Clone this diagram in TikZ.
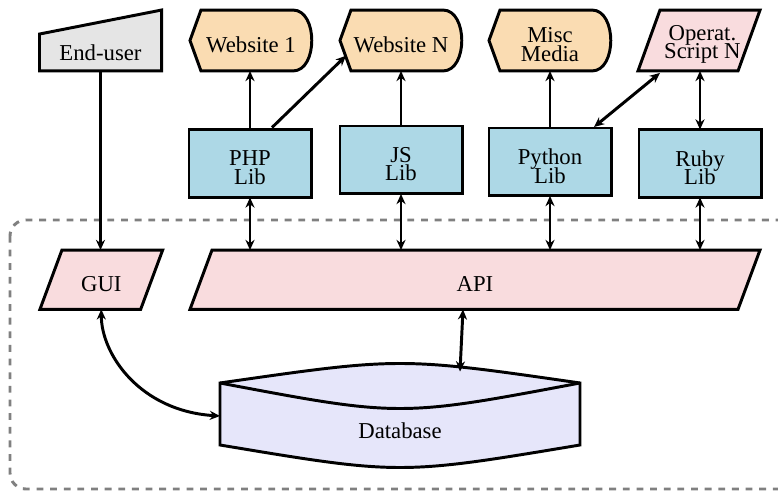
\documentclass[tikz,border=0pt]{standalone}
\usepackage{fontspec}
\setmainfont{Liberation Serif}
\usetikzlibrary{arrows.meta,calc,backgrounds}

\definecolor{userfill}{RGB}{229,229,229}
\definecolor{webfill}{RGB}{250,220,178}
\definecolor{scriptfill}{RGB}{249,220,222}
\definecolor{libfill}{RGB}{173,216,230}
\definecolor{dbfill}{RGB}{230,230,250}

\newcommand{\tightfont}{\fontsize{10}{8.1}\selectfont\lineskiplimit=-20pt\relax}

\begin{document}
\begin{tikzpicture}[x=0.44pt, y=0.44pt,
  >={Stealth[length=4.5pt,width=4pt]},
  outline/.style={draw, line width=1.3pt, line join=miter},
  conn/.style={line width=1.3pt},
  box/.style={minimum width=53.7pt, minimum height=26.8pt, inner sep=0pt, outer sep=0pt},
  libbox/.style={outline, fill=libfill, minimum width=53.7pt, minimum height=29.9pt, inner sep=0pt, outer sep=0pt},
  txt/.style={align=center, font=\tightfont, yshift=-1.8pt}]

\useasboundingbox (0,0) rectangle (778,-491);

% upper row
\node[box, label={[txt, yshift=-3.7pt]center:End-user}] (user) at (100.5,-40.5) {};
\node[box, label={[txt]center:Website 1}] (web1) at (251,-40.5) {};
\node[box, label={[txt]center:Website N}] (webN) at (401,-40.5) {};
\node[box, label={[txt]center:Misc\\Media}] (misc) at (550,-40.5) {};
\node[box, label={[txt, xshift=1.5pt]center:Operat.\\Script N}] (script) at (699,-40.5) {};

% libraries
\node[libbox, label={[txt]center:PHP\\Lib}] (php) at (250,-163.5) {};
\node[libbox, label={[txt]center:JS\\Lib}] (js) at (401,-160) {};
\node[libbox, label={[txt]center:Python\\Lib}] (python) at (550,-162) {};
\node[libbox, label={[txt]center:Ruby\\Lib}] (ruby) at (700,-163.5) {};

% inside the server
\node[box, minimum width=54pt, minimum height=26.1pt, label={[txt]center:GUI}] (gui) at (101.3,-279.7) {};
\node[box, minimum width=250.8pt, minimum height=26.1pt, label={[txt]center:API}] (api) at (475,-279.7) {};
\node[box, minimum width=158.4pt, minimum height=39.6pt, label={[txt, yshift=-5pt]center:Database}] (db) at (400,-415) {};

\begin{scope}[on background layer]
  \draw[outline, gray, dashed, rounded corners=7pt] (10,-220) rectangle (800,-489);

  \filldraw[outline, fill=userfill] (user.south west) -- ($(user.north west)+(0,-24)$)
    -- (user.north east) -- (user.south east) -- cycle;

  \foreach \n in {web1,webN,misc}
    \filldraw[outline, fill=webfill] (\n.west) -- ($(\n.north west)+(11,0)$)
      -- ($(\n.north east)+(-19,0)$) .. controls +(25,0) and +(25,0) .. ($(\n.south east)+(-19,0)$)
      -- ($(\n.south west)+(11,0)$) -- cycle;

  \foreach \n in {script,gui,api}
    \filldraw[outline, fill=scriptfill] (\n.south west) -- ($(\n.north west)+(22,0)$)
      -- (\n.north east) -- ($(\n.south east)+(-22,0)$) -- cycle;

  % database
  \filldraw[outline, fill=dbfill] ($(db.north west)+(0,-13)$) .. controls ($(db.north)+(0,13)$) .. ($(db.north east)+(0,-13)$)
    -- ($(db.south east)+(0,15)$) .. controls ($(db.south)+(0,-15)$) .. ($(db.south west)+(0,15)$) -- cycle;
  \draw[outline] ($(db.north west)+(0,-13)$) .. controls ($(db.north)+(0,-47)$) .. ($(db.north east)+(0,-13)$);
\end{scope}

\draw[conn, ->] (php.north) -- (php.north |- web1.south);
\draw[conn, ->] ($(php.north)+(22,2)$) -- ($(webN.west)!0.5!(webN.south west)+(6,0)$);
\draw[conn, ->] (js.north) -- (js.north |- webN.south);
\draw[conn, ->] (python.north) -- (python.north |- misc.south);
\draw[conn, <->] ($(python.north)+(44,1)$) -- ($(script.south west)+(22,-2)$);
\draw[conn, <->] (ruby.north) -- (ruby.north |- script.south);

\draw[conn, ->] (user.south) -- (user.south |- gui.north);
\foreach \n in {php,js,python,ruby}
  \draw[conn, <->] (\n.south) -- (\n.south |- api.north);

\draw[conn, <->] ($(api.south)+(-12,0)$) -- ($(db.north)+(60,-1.5)$);
\draw[conn, <->] (gui.south) .. controls +(0,-45) and +(-80,5) .. ($(db.west)+(0,-1)$);

\end{tikzpicture}
\end{document}
